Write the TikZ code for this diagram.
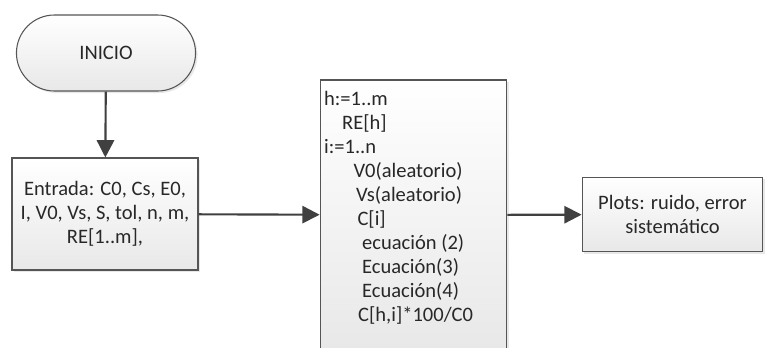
\documentclass[tikz,border=0pt]{standalone}
\usepackage{fontspec}
\setmainfont{Carlito}
\usepackage{xcolor}
\usetikzlibrary{arrows.meta,shapes.misc,shadows,positioning}
\definecolor{edgegray}{RGB}{85,85,85}
\definecolor{arrowgray}{RGB}{64,64,64}
\definecolor{textgray}{RGB}{40,40,40}
\tikzset{>={Triangle[length=13pt,width=13pt]}}
\tikzset{
  flowbox/.style={
    draw=edgegray, line width=0.8pt, top color=white, bottom color=black!9,
    text=textgray, font=\fontsize{15.4}{18}\selectfont, align=center,
    drop shadow={shadow xshift=1.5pt, shadow yshift=-1.5pt, opacity=0.18}
  },
  startbox/.style={flowbox, rounded rectangle, minimum width=141pt, minimum height=57pt},
  flowarrow/.style={->, arrowgray, line width=1.6pt}
}
\begin{document}
\begin{tikzpicture}[x=0.75pt,y=-0.75pt]
    \useasboundingbox (0,0) rectangle (765,347);
    \clip (0,0) rectangle (765,347);
    \node[startbox](inicio) at (106,53) {INICIO};
    \node[flowbox, minimum width=139.5pt, minimum height=84pt, inner sep=2pt](entrada) at (105,214)
        {Entrada: C0, Cs, E0,\\ I, V0, Vs, S, tol, n, m,\\ RE[1..m],};
    \node[flowbox, minimum width=140pt, minimum height=202.5pt, inner sep=0pt](ciclo) at (413.5,215)
        {\parbox[t][195pt][t]{134pt}{\raggedright\vspace*{4.5pt}
        h:=1..m\\
        \hspace*{13.5pt}RE[h]\\
        i:=1..n\\
        \hspace*{22pt}V0(aleatorio)\\
        \hspace*{24pt}Vs(aleatorio)\\
        \hspace*{25pt}C[i]\\
        \hspace*{28.5pt}ecuación (2)\\
        \hspace*{28.5pt}Ecuación(3)\\
        \hspace*{28.5pt}Ecuación(4)\\
        \hspace*{25.5pt}C[h,i]*100/C0}};
    \node[flowbox, minimum width=135.5pt, minimum height=56pt](plots) at (672.5,214.5)
        {Plots: ruido, error\\ sistemático};
    \draw[flowarrow] (inicio) -- (entrada);
    \draw[flowarrow] (entrada) -- (ciclo);
    \draw[flowarrow] (ciclo) -- (plots);
\end{tikzpicture}
\end{document}
